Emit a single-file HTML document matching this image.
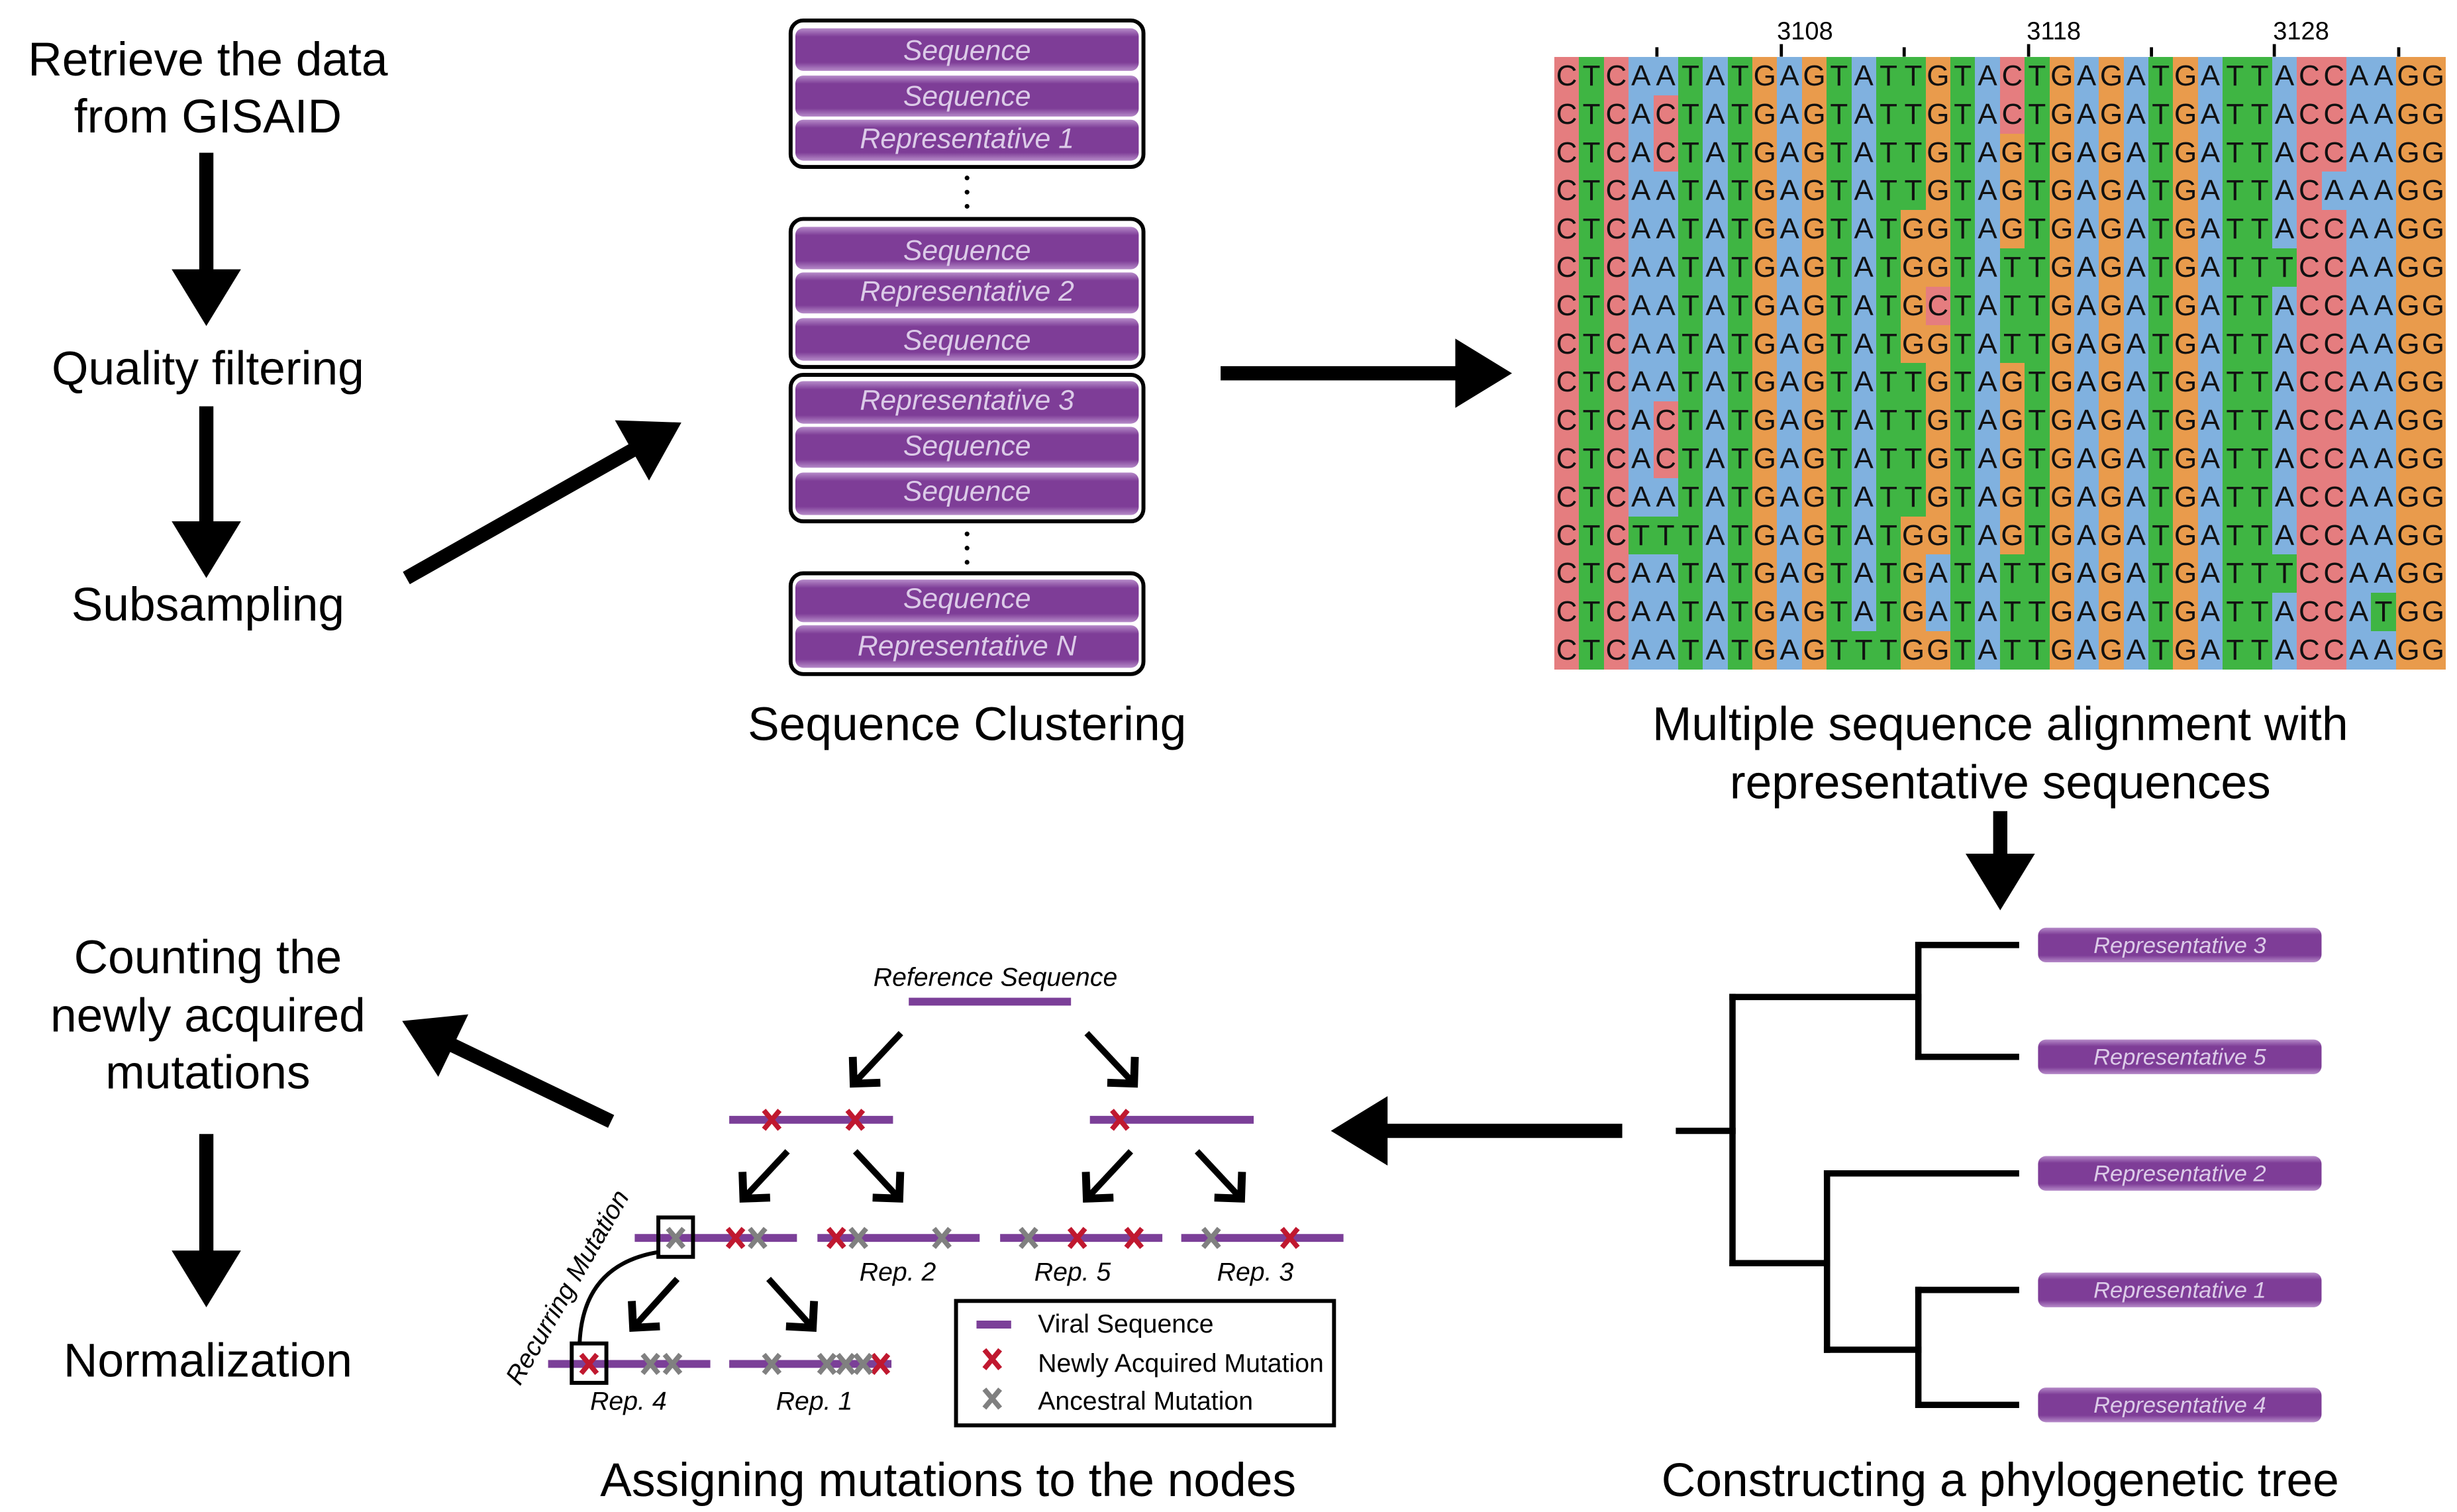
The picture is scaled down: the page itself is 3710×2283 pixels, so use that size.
<!DOCTYPE html>
<html><head><meta charset="utf-8">
<style>
body{margin:0;background:#fff;}
#w{position:relative;width:3710px;height:2283px;overflow:hidden;background:#fff;}
svg{position:absolute;left:0;top:0;}
#al{position:absolute;left:2347px;top:86px;display:grid;grid-template-columns:repeat(36,37.39px);grid-auto-rows:57.8px;font-family:"Liberation Sans",sans-serif;font-size:44px;color:#111;}
#al b{font-weight:normal;text-align:center;line-height:57.8px;}
.C{background:#e57d7f}.T{background:#3fb543}.A{background:#80b1df}.G{background:#e99b4c}
</style></head><body><div id="w">
<svg width="3710" height="2283" viewBox="0 0 1560 960" preserveAspectRatio="none" font-family="Liberation Sans, sans-serif">
<defs>
<marker id="h" markerUnits="userSpaceOnUse" markerWidth="40" markerHeight="50" refX="2" refY="22" orient="auto" overflow="visible"><path d="M0,0 L36,22 L0,44 z" fill="#000"/></marker>
<marker id="s" markerUnits="userSpaceOnUse" markerWidth="30" markerHeight="30" refX="13" refY="12" orient="auto" overflow="visible"><path d="M1,0 L13,12 L1,24" fill="none" stroke="#000" stroke-width="5"/></marker>
<linearGradient id="pg" x1="0" y1="0" x2="0" y2="1"><stop offset="0" stop-color="#b68bc9"/><stop offset="0.2" stop-color="#7e3d97"/><stop offset="0.8" stop-color="#7e3d97"/><stop offset="1" stop-color="#b68bc9"/></linearGradient>
</defs>
<g font-size="30" text-anchor="middle" fill="#000">
<text x="132" y="48">Retrieve the data</text>
<text x="132" y="84">from GISAID</text>
<text x="132" y="244">Quality filtering</text>
<text x="132" y="394">Subsampling</text>
<text x="614" y="470">Sequence Clustering</text>
<text x="1270" y="470">Multiple sequence alignment with</text>
<text x="1270" y="507">representative sequences</text>
<text x="132" y="618">Counting the</text>
<text x="132" y="655">newly acquired</text>
<text x="132" y="691">mutations</text>
<text x="132" y="874">Normalization</text>
<text x="602" y="950">Assigning mutations to the nodes</text>
<text x="1270" y="950">Constructing a phylogenetic tree</text>
</g>
<g stroke="#000" stroke-width="9" marker-end="url(#h)">
<line x1="131" y1="97" x2="131" y2="173"/>
<line x1="131" y1="258" x2="131" y2="333"/>
<line x1="258" y1="367" x2="403" y2="285"/>
<line x1="775" y1="237" x2="926" y2="237"/>
<line x1="1270" y1="515" x2="1270" y2="544"/>
<line x1="1030" y1="718" x2="879" y2="718"/>
<line x1="388" y1="712" x2="286" y2="663"/>
<line x1="131" y1="720" x2="131" y2="796"/>
</g>
<g fill="#fff" stroke="#000" stroke-width="2.5">
<rect x="502" y="13" width="224" height="93" rx="8"/>
<rect x="502" y="139" width="224" height="94" rx="8"/>
<rect x="502" y="238" width="224" height="93" rx="8"/>
<rect x="502" y="364" width="224" height="64" rx="8"/>
</g>
<g fill="url(#pg)">
<rect x="505" y="18" width="218" height="27" rx="5"/><rect x="505" y="48" width="218" height="26" rx="5"/><rect x="505" y="76" width="218" height="26" rx="5"/>
<rect x="505" y="144" width="218" height="27" rx="5"/><rect x="505" y="173" width="218" height="26" rx="5"/><rect x="505" y="202" width="218" height="27" rx="5"/>
<rect x="505" y="242" width="218" height="27" rx="5"/><rect x="505" y="271" width="218" height="26" rx="5"/><rect x="505" y="300" width="218" height="27" rx="5"/>
<rect x="505" y="368" width="218" height="27" rx="5"/><rect x="505" y="397" width="218" height="27" rx="5"/>
</g>
<g fill="#dccbe8" font-size="18" font-style="italic" text-anchor="middle">
<text x="614" y="38">Sequence</text><text x="614" y="67">Sequence</text><text x="614" y="94">Representative 1</text>
<text x="614" y="165">Sequence</text><text x="614" y="191">Representative 2</text><text x="614" y="222">Sequence</text>
<text x="614" y="260">Representative 3</text><text x="614" y="289">Sequence</text><text x="614" y="318">Sequence</text>
<text x="614" y="386">Sequence</text><text x="614" y="416">Representative N</text>
</g>
<g fill="#000"><circle cx="614" cy="113" r="1.5"/><circle cx="614" cy="122" r="1.5"/><circle cx="614" cy="131" r="1.5"/>
<circle cx="614" cy="339" r="1.5"/><circle cx="614" cy="348" r="1.5"/><circle cx="614" cy="357" r="1.5"/></g>
<g stroke="#000" stroke-width="2"><line x1="1052" y1="30" x2="1052" y2="36"/><line x1="1131" y1="28" x2="1131" y2="36"/><line x1="1209" y1="30" x2="1209" y2="36"/><line x1="1288" y1="28" x2="1288" y2="36"/><line x1="1366" y1="30" x2="1366" y2="36"/><line x1="1444" y1="28" x2="1444" y2="36"/><line x1="1523" y1="30" x2="1523" y2="36"/></g>
<g font-size="16" text-anchor="middle"><text x="1146" y="25">3108</text><text x="1304" y="25">3118</text><text x="1461" y="25">3128</text></g>
<g stroke="#000" stroke-width="4" fill="none" stroke-linecap="square">
<line x1="1066" y1="718" x2="1100" y2="718"/>
<line x1="1100" y1="633" x2="1100" y2="802"/>
<line x1="1100" y1="633" x2="1218" y2="633"/>
<line x1="1218" y1="600" x2="1218" y2="671"/>
<line x1="1218" y1="600" x2="1280" y2="600"/><line x1="1218" y1="671" x2="1280" y2="671"/>
<line x1="1100" y1="802" x2="1160" y2="802"/>
<line x1="1160" y1="745" x2="1160" y2="857"/>
<line x1="1160" y1="745" x2="1280" y2="745"/>
<line x1="1160" y1="857" x2="1218" y2="857"/>
<line x1="1218" y1="819" x2="1218" y2="892"/>
<line x1="1218" y1="819" x2="1280" y2="819"/><line x1="1218" y1="892" x2="1280" y2="892"/>
</g>
<g fill="url(#pg)">
<rect x="1294" y="589" width="180" height="22" rx="5"/><rect x="1294" y="660" width="180" height="22" rx="5"/><rect x="1294" y="734" width="180" height="22" rx="5"/><rect x="1294" y="808" width="180" height="22" rx="5"/><rect x="1294" y="881" width="180" height="22" rx="5"/>
</g>
<g fill="#dccbe8" font-size="14.5" font-style="italic" text-anchor="middle">
<text x="1384" y="605">Representative 3</text><text x="1384" y="676">Representative 5</text><text x="1384" y="750">Representative 2</text><text x="1384" y="824">Representative 1</text><text x="1384" y="897">Representative 4</text>
</g>
<g font-size="16.5" font-style="italic" text-anchor="middle" fill="#000">
<text x="632" y="626">Reference Sequence</text>
<text x="570" y="813">Rep. 2</text><text x="681" y="813">Rep. 5</text><text x="797" y="813">Rep. 3</text>
<text x="399" y="895">Rep. 4</text><text x="517" y="895">Rep. 1</text>
<text transform="translate(365,820) rotate(-60)">Recurring Mutation</text>
</g>
<g stroke="#7b3f98" stroke-width="5">
<line x1="577" y1="636" x2="680" y2="636"/>
<line x1="463" y1="711" x2="567" y2="711"/><line x1="692" y1="711" x2="796" y2="711"/>
<line x1="403" y1="786" x2="506" y2="786"/><line x1="519" y1="786" x2="622" y2="786"/><line x1="635" y1="786" x2="738" y2="786"/><line x1="750" y1="786" x2="853" y2="786"/>
<line x1="348" y1="866" x2="451" y2="866"/><line x1="463" y1="866" x2="566" y2="866"/>
<line x1="620" y1="841" x2="642" y2="841"/>
</g>
<g stroke="#000" stroke-width="4" marker-end="url(#s)">
<line x1="572" y1="656" x2="542" y2="688"/><line x1="690" y1="656" x2="720" y2="688"/>
<line x1="500" y1="731" x2="472" y2="761"/><line x1="543" y1="731" x2="571" y2="761"/>
<line x1="718" y1="731" x2="690" y2="761"/><line x1="760" y1="731" x2="788" y2="761"/>
<line x1="430" y1="812" x2="402" y2="843"/><line x1="488" y1="812" x2="516" y2="843"/>
</g>
<g stroke-width="3.2">
<g stroke="#c0182f">
<path d="M485,705l10,12M495,705l-10,12"/><path d="M538,705l10,12M548,705l-10,12"/>
<path d="M706,705l10,12M716,705l-10,12"/>
<path d="M462,780l10,12M472,780l-10,12"/>
<path d="M526,780l10,12M536,780l-10,12"/>
<path d="M679,780l10,12M689,780l-10,12"/><path d="M715,780l10,12M725,780l-10,12"/>
<path d="M814,780l10,12M824,780l-10,12"/>
<path d="M369,860l10,12M379,860l-10,12"/>
<path d="M554,860l10,12M564,860l-10,12"/>
<path d="M625,857l10,12M635,857l-10,12"/>
</g>
<g stroke="#808080">
<path d="M424,780l10,12M434,780l-10,12"/><path d="M476,780l10,12M486,780l-10,12"/>
<path d="M540,780l10,12M550,780l-10,12"/><path d="M593,780l10,12M603,780l-10,12"/>
<path d="M648,780l10,12M658,780l-10,12"/>
<path d="M764,780l10,12M774,780l-10,12"/>
<path d="M408,860l10,12M418,860l-10,12"/><path d="M422,860l10,12M432,860l-10,12"/>
<path d="M485,860l10,12M495,860l-10,12"/>
<path d="M520,860l10,12M530,860l-10,12"/><path d="M532,860l10,12M542,860l-10,12"/><path d="M543,860l10,12M553,860l-10,12"/>
<path d="M625,882l10,12M635,882l-10,12"/>
</g>
</g>
<g fill="none" stroke="#000" stroke-width="2.5">
<rect x="418" y="773" width="22" height="25"/>
<rect x="363" y="853" width="22" height="25"/>
<path d="M418,795 Q370,803 368,853"/>
<rect x="607" y="826" width="240" height="79"/>
</g>
<g font-size="16.5" fill="#000">
<text x="659" y="846">Viral Sequence</text>
<text x="659" y="871">Newly Acquired Mutation</text>
<text x="659" y="895">Ancestral Mutation</text>
</g>
</svg>
<div id="al">
<b class=C>C</b><b class=T>T</b><b class=C>C</b><b class=A>A</b><b class=A>A</b><b class=T>T</b><b class=A>A</b><b class=T>T</b><b class=G>G</b><b class=A>A</b><b class=G>G</b><b class=T>T</b><b class=A>A</b><b class=T>T</b><b class=T>T</b><b class=G>G</b><b class=T>T</b><b class=A>A</b><b class=C>C</b><b class=T>T</b><b class=G>G</b><b class=A>A</b><b class=G>G</b><b class=A>A</b><b class=T>T</b><b class=G>G</b><b class=A>A</b><b class=T>T</b><b class=T>T</b><b class=A>A</b><b class=C>C</b><b class=C>C</b><b class=A>A</b><b class=A>A</b><b class=G>G</b><b class=G>G</b>
<b class=C>C</b><b class=T>T</b><b class=C>C</b><b class=A>A</b><b class=C>C</b><b class=T>T</b><b class=A>A</b><b class=T>T</b><b class=G>G</b><b class=A>A</b><b class=G>G</b><b class=T>T</b><b class=A>A</b><b class=T>T</b><b class=T>T</b><b class=G>G</b><b class=T>T</b><b class=A>A</b><b class=C>C</b><b class=T>T</b><b class=G>G</b><b class=A>A</b><b class=G>G</b><b class=A>A</b><b class=T>T</b><b class=G>G</b><b class=A>A</b><b class=T>T</b><b class=T>T</b><b class=A>A</b><b class=C>C</b><b class=C>C</b><b class=A>A</b><b class=A>A</b><b class=G>G</b><b class=G>G</b>
<b class=C>C</b><b class=T>T</b><b class=C>C</b><b class=A>A</b><b class=C>C</b><b class=T>T</b><b class=A>A</b><b class=T>T</b><b class=G>G</b><b class=A>A</b><b class=G>G</b><b class=T>T</b><b class=A>A</b><b class=T>T</b><b class=T>T</b><b class=G>G</b><b class=T>T</b><b class=A>A</b><b class=G>G</b><b class=T>T</b><b class=G>G</b><b class=A>A</b><b class=G>G</b><b class=A>A</b><b class=T>T</b><b class=G>G</b><b class=A>A</b><b class=T>T</b><b class=T>T</b><b class=A>A</b><b class=C>C</b><b class=C>C</b><b class=A>A</b><b class=A>A</b><b class=G>G</b><b class=G>G</b>
<b class=C>C</b><b class=T>T</b><b class=C>C</b><b class=A>A</b><b class=A>A</b><b class=T>T</b><b class=A>A</b><b class=T>T</b><b class=G>G</b><b class=A>A</b><b class=G>G</b><b class=T>T</b><b class=A>A</b><b class=T>T</b><b class=T>T</b><b class=G>G</b><b class=T>T</b><b class=A>A</b><b class=G>G</b><b class=T>T</b><b class=G>G</b><b class=A>A</b><b class=G>G</b><b class=A>A</b><b class=T>T</b><b class=G>G</b><b class=A>A</b><b class=T>T</b><b class=T>T</b><b class=A>A</b><b class=C>C</b><b class=A>A</b><b class=A>A</b><b class=A>A</b><b class=G>G</b><b class=G>G</b>
<b class=C>C</b><b class=T>T</b><b class=C>C</b><b class=A>A</b><b class=A>A</b><b class=T>T</b><b class=A>A</b><b class=T>T</b><b class=G>G</b><b class=A>A</b><b class=G>G</b><b class=T>T</b><b class=A>A</b><b class=T>T</b><b class=G>G</b><b class=G>G</b><b class=T>T</b><b class=A>A</b><b class=G>G</b><b class=T>T</b><b class=G>G</b><b class=A>A</b><b class=G>G</b><b class=A>A</b><b class=T>T</b><b class=G>G</b><b class=A>A</b><b class=T>T</b><b class=T>T</b><b class=A>A</b><b class=C>C</b><b class=C>C</b><b class=A>A</b><b class=A>A</b><b class=G>G</b><b class=G>G</b>
<b class=C>C</b><b class=T>T</b><b class=C>C</b><b class=A>A</b><b class=A>A</b><b class=T>T</b><b class=A>A</b><b class=T>T</b><b class=G>G</b><b class=A>A</b><b class=G>G</b><b class=T>T</b><b class=A>A</b><b class=T>T</b><b class=G>G</b><b class=G>G</b><b class=T>T</b><b class=A>A</b><b class=T>T</b><b class=T>T</b><b class=G>G</b><b class=A>A</b><b class=G>G</b><b class=A>A</b><b class=T>T</b><b class=G>G</b><b class=A>A</b><b class=T>T</b><b class=T>T</b><b class=T>T</b><b class=C>C</b><b class=C>C</b><b class=A>A</b><b class=A>A</b><b class=G>G</b><b class=G>G</b>
<b class=C>C</b><b class=T>T</b><b class=C>C</b><b class=A>A</b><b class=A>A</b><b class=T>T</b><b class=A>A</b><b class=T>T</b><b class=G>G</b><b class=A>A</b><b class=G>G</b><b class=T>T</b><b class=A>A</b><b class=T>T</b><b class=G>G</b><b class=C>C</b><b class=T>T</b><b class=A>A</b><b class=T>T</b><b class=T>T</b><b class=G>G</b><b class=A>A</b><b class=G>G</b><b class=A>A</b><b class=T>T</b><b class=G>G</b><b class=A>A</b><b class=T>T</b><b class=T>T</b><b class=A>A</b><b class=C>C</b><b class=C>C</b><b class=A>A</b><b class=A>A</b><b class=G>G</b><b class=G>G</b>
<b class=C>C</b><b class=T>T</b><b class=C>C</b><b class=A>A</b><b class=A>A</b><b class=T>T</b><b class=A>A</b><b class=T>T</b><b class=G>G</b><b class=A>A</b><b class=G>G</b><b class=T>T</b><b class=A>A</b><b class=T>T</b><b class=G>G</b><b class=G>G</b><b class=T>T</b><b class=A>A</b><b class=T>T</b><b class=T>T</b><b class=G>G</b><b class=A>A</b><b class=G>G</b><b class=A>A</b><b class=T>T</b><b class=G>G</b><b class=A>A</b><b class=T>T</b><b class=T>T</b><b class=A>A</b><b class=C>C</b><b class=C>C</b><b class=A>A</b><b class=A>A</b><b class=G>G</b><b class=G>G</b>
<b class=C>C</b><b class=T>T</b><b class=C>C</b><b class=A>A</b><b class=A>A</b><b class=T>T</b><b class=A>A</b><b class=T>T</b><b class=G>G</b><b class=A>A</b><b class=G>G</b><b class=T>T</b><b class=A>A</b><b class=T>T</b><b class=T>T</b><b class=G>G</b><b class=T>T</b><b class=A>A</b><b class=G>G</b><b class=T>T</b><b class=G>G</b><b class=A>A</b><b class=G>G</b><b class=A>A</b><b class=T>T</b><b class=G>G</b><b class=A>A</b><b class=T>T</b><b class=T>T</b><b class=A>A</b><b class=C>C</b><b class=C>C</b><b class=A>A</b><b class=A>A</b><b class=G>G</b><b class=G>G</b>
<b class=C>C</b><b class=T>T</b><b class=C>C</b><b class=A>A</b><b class=C>C</b><b class=T>T</b><b class=A>A</b><b class=T>T</b><b class=G>G</b><b class=A>A</b><b class=G>G</b><b class=T>T</b><b class=A>A</b><b class=T>T</b><b class=T>T</b><b class=G>G</b><b class=T>T</b><b class=A>A</b><b class=G>G</b><b class=T>T</b><b class=G>G</b><b class=A>A</b><b class=G>G</b><b class=A>A</b><b class=T>T</b><b class=G>G</b><b class=A>A</b><b class=T>T</b><b class=T>T</b><b class=A>A</b><b class=C>C</b><b class=C>C</b><b class=A>A</b><b class=A>A</b><b class=G>G</b><b class=G>G</b>
<b class=C>C</b><b class=T>T</b><b class=C>C</b><b class=A>A</b><b class=C>C</b><b class=T>T</b><b class=A>A</b><b class=T>T</b><b class=G>G</b><b class=A>A</b><b class=G>G</b><b class=T>T</b><b class=A>A</b><b class=T>T</b><b class=T>T</b><b class=G>G</b><b class=T>T</b><b class=A>A</b><b class=G>G</b><b class=T>T</b><b class=G>G</b><b class=A>A</b><b class=G>G</b><b class=A>A</b><b class=T>T</b><b class=G>G</b><b class=A>A</b><b class=T>T</b><b class=T>T</b><b class=A>A</b><b class=C>C</b><b class=C>C</b><b class=A>A</b><b class=A>A</b><b class=G>G</b><b class=G>G</b>
<b class=C>C</b><b class=T>T</b><b class=C>C</b><b class=A>A</b><b class=A>A</b><b class=T>T</b><b class=A>A</b><b class=T>T</b><b class=G>G</b><b class=A>A</b><b class=G>G</b><b class=T>T</b><b class=A>A</b><b class=T>T</b><b class=T>T</b><b class=G>G</b><b class=T>T</b><b class=A>A</b><b class=G>G</b><b class=T>T</b><b class=G>G</b><b class=A>A</b><b class=G>G</b><b class=A>A</b><b class=T>T</b><b class=G>G</b><b class=A>A</b><b class=T>T</b><b class=T>T</b><b class=A>A</b><b class=C>C</b><b class=C>C</b><b class=A>A</b><b class=A>A</b><b class=G>G</b><b class=G>G</b>
<b class=C>C</b><b class=T>T</b><b class=C>C</b><b class=T>T</b><b class=T>T</b><b class=T>T</b><b class=A>A</b><b class=T>T</b><b class=G>G</b><b class=A>A</b><b class=G>G</b><b class=T>T</b><b class=A>A</b><b class=T>T</b><b class=G>G</b><b class=G>G</b><b class=T>T</b><b class=A>A</b><b class=G>G</b><b class=T>T</b><b class=G>G</b><b class=A>A</b><b class=G>G</b><b class=A>A</b><b class=T>T</b><b class=G>G</b><b class=A>A</b><b class=T>T</b><b class=T>T</b><b class=A>A</b><b class=C>C</b><b class=C>C</b><b class=A>A</b><b class=A>A</b><b class=G>G</b><b class=G>G</b>
<b class=C>C</b><b class=T>T</b><b class=C>C</b><b class=A>A</b><b class=A>A</b><b class=T>T</b><b class=A>A</b><b class=T>T</b><b class=G>G</b><b class=A>A</b><b class=G>G</b><b class=T>T</b><b class=A>A</b><b class=T>T</b><b class=G>G</b><b class=A>A</b><b class=T>T</b><b class=A>A</b><b class=T>T</b><b class=T>T</b><b class=G>G</b><b class=A>A</b><b class=G>G</b><b class=A>A</b><b class=T>T</b><b class=G>G</b><b class=A>A</b><b class=T>T</b><b class=T>T</b><b class=T>T</b><b class=C>C</b><b class=C>C</b><b class=A>A</b><b class=A>A</b><b class=G>G</b><b class=G>G</b>
<b class=C>C</b><b class=T>T</b><b class=C>C</b><b class=A>A</b><b class=A>A</b><b class=T>T</b><b class=A>A</b><b class=T>T</b><b class=G>G</b><b class=A>A</b><b class=G>G</b><b class=T>T</b><b class=A>A</b><b class=T>T</b><b class=G>G</b><b class=A>A</b><b class=T>T</b><b class=A>A</b><b class=T>T</b><b class=T>T</b><b class=G>G</b><b class=A>A</b><b class=G>G</b><b class=A>A</b><b class=T>T</b><b class=G>G</b><b class=A>A</b><b class=T>T</b><b class=T>T</b><b class=A>A</b><b class=C>C</b><b class=C>C</b><b class=A>A</b><b class=T>T</b><b class=G>G</b><b class=G>G</b>
<b class=C>C</b><b class=T>T</b><b class=C>C</b><b class=A>A</b><b class=A>A</b><b class=T>T</b><b class=A>A</b><b class=T>T</b><b class=G>G</b><b class=A>A</b><b class=G>G</b><b class=T>T</b><b class=T>T</b><b class=T>T</b><b class=G>G</b><b class=G>G</b><b class=T>T</b><b class=A>A</b><b class=T>T</b><b class=T>T</b><b class=G>G</b><b class=A>A</b><b class=G>G</b><b class=A>A</b><b class=T>T</b><b class=G>G</b><b class=A>A</b><b class=T>T</b><b class=T>T</b><b class=A>A</b><b class=C>C</b><b class=C>C</b><b class=A>A</b><b class=A>A</b><b class=G>G</b><b class=G>G</b>
</div>
</div></body></html>
